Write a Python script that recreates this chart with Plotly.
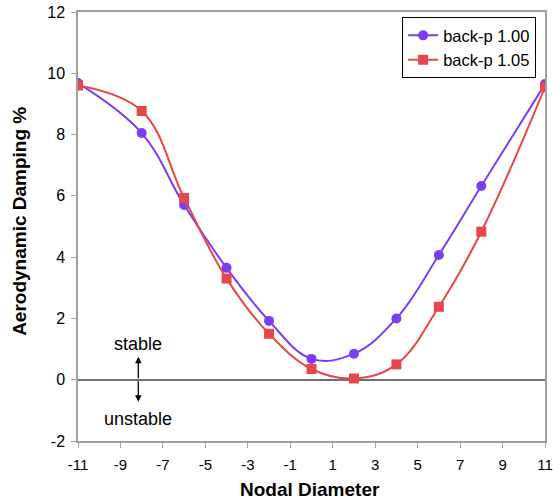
import plotly.graph_objects as go

nodal_diameter = [-11, -8, -6, -4, -2, 0, 2, 4, 6, 8, 11]
back_p_100 = [9.68, 8.05, 5.7, 3.65, 1.92, 0.68, 0.85, 2.0, 4.07, 6.32, 9.65]
back_p_105 = [9.6, 8.77, 5.93, 3.3, 1.5, 0.35, 0.04, 0.5, 2.38, 4.83, 9.55]
x_ticks = list(range(-11, 12, 2))
y_ticks = list(range(-2, 13, 2))

purple = "#7A3DF5"
red = "#E6474A"
FONT = "Liberation Sans, Arial, sans-serif"

fig = go.Figure()
fig.add_trace(go.Scatter(x=nodal_diameter, y=back_p_100, name="back-p 1.00",
                         mode="lines+markers", line=dict(color=purple, width=2, shape="spline", smoothing=1.1),
                         marker=dict(symbol="circle", size=10, color=purple)))
fig.add_trace(go.Scatter(x=nodal_diameter, y=back_p_105, name="back-p 1.05",
                         mode="lines+markers", line=dict(color=red, width=2, shape="spline", smoothing=1.1),
                         marker=dict(symbol="square", size=10, color=red)))

fig.update_layout(
    width=553, height=503,
    margin=dict(l=78, r=8, t=12, b=62),
    plot_bgcolor="white", paper_bgcolor="white",
    font=dict(family=FONT, color="black"),
    showlegend=True,
    legend=dict(x=0.981, y=0.988, xanchor="right", yanchor="top",
                bordercolor="black", borderwidth=1, bgcolor="white",
                font=dict(size=16.5, family=FONT),
                tracegroupgap=0, itemwidth=30, entrywidth=156),
    xaxis=dict(range=[-11, 11], tickvals=x_ticks, ticktext=[str(t) for t in x_ticks],
               showgrid=False, zeroline=False, showline=True, linecolor="#a0a0a0", linewidth=1.5,
               mirror=True, ticks="outside", tickcolor="#a0a0a0", ticklen=5, automargin=False,
               ticklabelstandoff=4,
               tickfont=dict(family=FONT, size=15, color="black")),
    yaxis=dict(range=[-2, 12], tickvals=y_ticks, ticktext=[str(t) for t in y_ticks],
               showgrid=False, zeroline=True, zerolinecolor="#707070", zerolinewidth=1.5,
               showline=True, linecolor="#a0a0a0", linewidth=1.5, automargin=False,
               mirror=True, ticks="outside", tickcolor="#a0a0a0", ticklen=5,
               ticklabelstandoff=3,
               tickfont=dict(family=FONT, size=16, color="black")),
)

# axis titles
fig.add_annotation(x=0.497, y=-0.114, xref="paper", yref="paper", text="<b>Nodal Diameter</b>",
                   showarrow=False, font=dict(size=19), xanchor="center", yanchor="middle")
fig.add_annotation(x=-0.124, y=0.511, xref="paper", yref="paper", text="<b>Aerodynamic Damping %</b>",
                   showarrow=False, font=dict(size=19), textangle=-90, xanchor="center", yanchor="middle")

# stable / unstable markers
fig.add_annotation(x=-8.16, y=1.17, text="stable", showarrow=False, font=dict(size=18))
fig.add_annotation(x=-8.16, y=-1.27, text="unstable", showarrow=False, font=dict(size=18))
fig.add_annotation(x=-8.16, y=0.75, ax=-8.16, ay=0, axref="x", ayref="y", xref="x", yref="y",
                   text="", showarrow=True, arrowhead=2, arrowsize=1, arrowwidth=1.3, arrowcolor="black")
fig.add_annotation(x=-8.16, y=-0.72, ax=-8.16, ay=0, axref="x", ayref="y", xref="x", yref="y",
                   text="", showarrow=True, arrowhead=2, arrowsize=1, arrowwidth=1.3, arrowcolor="black")

fig.write_html("out.html", config={"displayModeBar": False},
               post_script="document.body.style.margin='0';document.body.style.overflow='hidden';")
